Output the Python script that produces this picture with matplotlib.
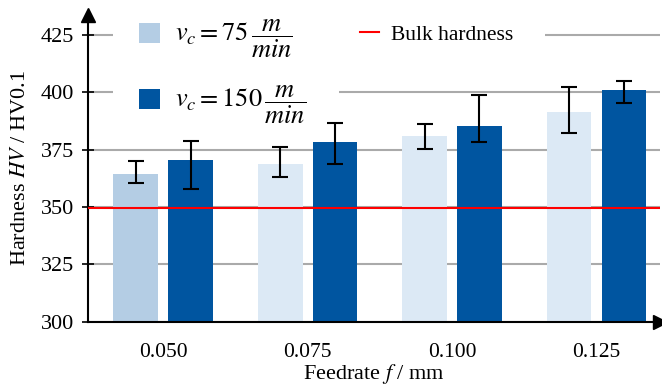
import numpy as np
import matplotlib.pyplot as plt
from matplotlib.patches import Patch, Rectangle
from matplotlib.lines import Line2D

plt.rcParams['font.family'] = ['Liberation Serif', 'DejaVu Serif']
plt.rcParams['mathtext.fontset'] = 'stix'

# Daten
feed_labels = ['0.050', '0.075', '0.100', '0.125']
hv_75 = [364.5, 368.8, 381.0, 391.3]
err_75_lo = [360.7, 363.3, 375.3, 382.5]
err_75_hi = [370.3, 376.3, 386.0, 402.2]
hv_150 = [370.6, 378.3, 385.3, 400.9]
err_150_lo = [358.0, 368.8, 378.3, 395.3]
err_150_hi = [379.0, 386.8, 398.9, 405.0]
bulk_hv = 349.5

light = '#dce9f5'
light_first = '#b4cde4'
dark = '#0055a0'
fs = 16

fig = plt.figure(figsize=(6.62, 3.85), dpi=100)
ax = fig.add_axes([0.133, 0.164, 0.864, 0.797])

x = np.arange(len(feed_labels))
w = 0.31
off = 0.19
hv_75 = np.array(hv_75)
hv_150 = np.array(hv_150)

cols_75 = [light_first] + [light] * (len(x) - 1)
ax.bar(x - off, hv_75 - 300, w, bottom=300, color=cols_75, zorder=2)
ax.bar(x + off, hv_150 - 300, w, bottom=300, color=dark, zorder=2)

yerr_75 = [hv_75 - np.array(err_75_lo), np.array(err_75_hi) - hv_75]
yerr_150 = [hv_150 - np.array(err_150_lo), np.array(err_150_hi) - hv_150]
ax.errorbar(x - off, hv_75, yerr=yerr_75, fmt='none', ecolor='black',
            elinewidth=1.5, capsize=6, capthick=1.5, zorder=3)
ax.errorbar(x + off, hv_150, yerr=yerr_150, fmt='none', ecolor='black',
            elinewidth=1.5, capsize=6, capthick=1.5, zorder=3)

ax.axhline(bulk_hv, color='#ff0000', lw=1.5, zorder=4)

ax.set_xlim(-0.52, 3.44)
ax.set_ylim(300, 433.7)
ax.set_yticks([300, 325, 350, 375, 400, 425])
ax.set_xticks(x)
ax.set_xticklabels(feed_labels)
ax.yaxis.grid(True, color='#aaaaaa', lw=1.5, zorder=0)
ax.set_axisbelow(True)
ax.tick_params(axis='y', direction='inout', length=8, width=1.2, labelsize=fs, pad=6)
ax.tick_params(axis='x', length=0, labelsize=15.5, pad=15)
for s in ['top', 'right']:
    ax.spines[s].set_visible(False)
for s in ['left', 'bottom']:
    ax.spines[s].set_linewidth(1.5)
ax.plot(0, 1, '^k', ms=10, transform=ax.transAxes, clip_on=False)
ax.plot(1, 0, '>k', ms=10, transform=ax.transAxes, clip_on=False)

ax.set_xlabel('Feedrate $\\it{f}$ / mm', fontsize=fs, labelpad=0)
ax.set_ylabel('Hardness $\\it{HV}$ / HV0.1', fontsize=fs, labelpad=8)

# weisse Hintergruende der Legenden (verdecken das Gitter)
ax.add_patch(Rectangle((0.044, 0.66), 0.395, 0.4, transform=ax.transAxes,
                       facecolor='white', edgecolor='none', zorder=1, clip_on=False))
ax.add_patch(Rectangle((0.439, 0.88), 0.36, 0.18, transform=ax.transAxes,
                       facecolor='white', edgecolor='none', zorder=1, clip_on=False))

# Legende 1: Schnittgeschwindigkeiten
h1 = [Patch(facecolor=light_first), Patch(facecolor=dark)]
l1 = [r'$v_c = 75\,\dfrac{m}{min}$', r'$v_c = 150\,\dfrac{m}{min}$']
leg1 = ax.legend(h1, l1, loc='upper left', bbox_to_anchor=(0.089, 0.99),
                 fontsize=19, frameon=False,
                 handlelength=0.78, handleheight=0.78, handletextpad=0.6,
                 labelspacing=0.9, borderaxespad=0, borderpad=0)
ax.add_artist(leg1)

# Legende 2: Grundhaerte
h2 = [Line2D([0], [0], color='#ff0000', lw=1.5)]
ax.legend(h2, ['Bulk hardness'], loc='center left', bbox_to_anchor=(0.4755, 0.935),
          fontsize=15.5, frameon=False, handlelength=0.9,
          handletextpad=0.55, borderaxespad=0, borderpad=0)

fig.savefig('out.png', dpi=100)
